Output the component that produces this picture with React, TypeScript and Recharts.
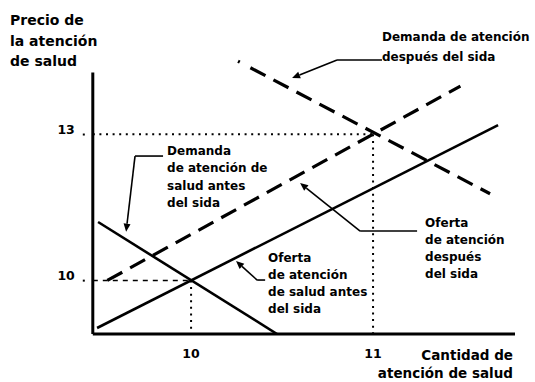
import React from "react";
import { LineChart, Line, XAxis, YAxis, ReferenceLine, ReferenceDot } from "recharts";

// Curves (quantity q, price p)
const demandBefore = [{ q: 9.489, p: 11.2 }, { q: 10.4725, p: 8.9 }];
const supplyBefore = [{ q: 9.4835, p: 9.023 }, { q: 11.687, p: 13.19 }];
const supplyAfter = [{ q: 9.54, p: 10.0 }, { q: 11.48, p: 13.99 }];
const demandAfter = [{ q: 10.258, p: 14.5 }, { q: 11.643, p: 11.78 }];

const xTicks = [10, 11];
const yTicks = [10, 13];
const X_DOMAIN: [number, number] = [9.46, 11.78];
const Y_DOMAIN: [number, number] = [8.9, 14.6];
const Y_AXIS_TOP = 14.27;

// Equilibria
const eqBefore = { q: 10, p: 10 };
const eqAfter = { q: 11, p: 13 };

// Annotation texts (anchor: left/baseline of first line in data units)
const annotations = [
  { q: 9.005, p: 15.244, lines: ["Precio de", "la atención", "de salud"], size: 14, lh: 20.5, anchor: "start" },
  { q: 11.769, p: 8.368, lines: ["Cantidad de", "atención de salud"], size: 13.5, lh: 18.5, anchor: "end" },
  { q: 11.049, p: 14.916, lines: ["Demanda de atención", "después del sida"], size: 12, lh: 20, anchor: "start" },
  { q: 9.868, p: 12.575, lines: ["Demanda", "de atención de", "salud antes", "del sida"], size: 12, lh: 17.3, anchor: "start" },
  { q: 10.423, p: 10.384, lines: ["Oferta", "de atención", "de salud antes", "del sida"], size: 12, lh: 17, anchor: "start" },
  { q: 11.286, p: 11.103, lines: ["Oferta", "de atención", "después", "del sida"], size: 12, lh: 17.2, anchor: "start" },
];

// Leader lines: [from, bend, arrow tip]
const leaders = [
  [{ q: 11.049, p: 14.526 }, { q: 10.802, p: 14.526 }, { q: 10.555, p: 14.156 }],
  [{ q: 9.846, p: 12.554 }, { q: 9.692, p: 12.554 }, { q: 9.643, p: 11.0 }],
  [{ q: 10.407, p: 10.008 }, { q: 10.363, p: 10.008 }, { q: 10.247, p: 10.398 }],
  [{ q: 11.242, p: 11.014 }, { q: 10.929, p: 11.014 }, { q: 10.599, p: 12.0 }],
];

const FONT = "'DejaVu Sans', sans-serif";

const ArrowLine = (props: any) => {
  const { x1, y1, x2, y2 } = props;
  const dx = x2 - x1;
  const dy = y2 - y1;
  const len = Math.sqrt(dx * dx + dy * dy) || 1;
  const ux = dx / len;
  const uy = dy / len;
  const L = 8;
  const W = 3.5;
  const bx = x2 - ux * L;
  const by = y2 - uy * L;
  const pts = `${x2},${y2} ${bx - uy * W},${by + ux * W} ${bx + uy * W},${by - ux * W}`;
  return (
    <g>
      <line x1={x1} y1={y1} x2={bx} y2={by} stroke="#000" strokeWidth={1.6} />
      <polygon points={pts} fill="#000" />
    </g>
  );
};

const PlainLine = (props: any) => {
  const { x1, y1, x2, y2 } = props;
  return <line x1={x1} y1={y1} x2={x2} y2={y2} stroke="#000" strokeWidth={1.6} />;
};

const makeTextShape = (a: any) => (props: any) => {
  const { cx, cy } = props;
  return (
    <text x={cx} y={cy} fontFamily={FONT} fontWeight="bold" fontSize={a.size} fill="#000" textAnchor={a.anchor}>
      {a.lines.map((l: string, i: number) => (
        <tspan key={i} x={cx} dy={i === 0 ? 0 : a.lh}>
          {l}
        </tspan>
      ))}
    </text>
  );
};

const XTick = (props: any) => {
  const { x, y, payload } = props;
  return (
    <text x={x} y={y + 10} textAnchor="middle" fontFamily={FONT} fontWeight="bold" fontSize={12.5} fill="#000">
      {payload.value}
    </text>
  );
};

const YTick = (props: any) => {
  const { x, y, payload } = props;
  return (
    <g>
      <text x={x} y={y} textAnchor="end" fontFamily={FONT} fontWeight="bold" fontSize={12.5} fill="#000">
        {payload.value}
      </text>
      <rect x={x + 8} y={y - 0.8} width={2} height={2} fill="#000" />
    </g>
  );
};

export default function App() {
  return (
    <div style={{ position: "absolute", left: 0, top: 0, background: "#fff" }}>
      <LineChart width={535} height={382} margin={{ top: 56.4, right: 20, bottom: 18, left: 32.8 }}>
        <XAxis
          type="number"
          dataKey="q"
          domain={X_DOMAIN}
          allowDataOverflow
          ticks={xTicks}
          height={30}
          tickSize={5}
          tickMargin={9}
          axisLine={{ stroke: "#000", strokeWidth: 3 }}
          tickLine={false}
          tick={<XTick />}
        />
        <YAxis
          type="number"
          dataKey="p"
          domain={Y_DOMAIN}
          allowDataOverflow
          ticks={yTicks}
          width={60}
          tickSize={0}
          tickMargin={18}
          axisLine={false}
          tickLine={false}
          tick={<YTick />}
        />
        {/* vertical axis line */}
        <ReferenceLine
          segment={[{ x: X_DOMAIN[0], y: Y_DOMAIN[0] }, { x: X_DOMAIN[0], y: Y_AXIS_TOP }]}
          stroke="#000"
          strokeWidth={3}
        />
        {/* guide lines */}
        <ReferenceLine
          segment={[{ x: X_DOMAIN[0], y: eqAfter.p }, { x: eqAfter.q, y: eqAfter.p }]}
          stroke="#000"
          strokeWidth={2}
          strokeDasharray="2 4.6"
        />
        <ReferenceLine
          segment={[{ x: eqAfter.q, y: eqAfter.p }, { x: eqAfter.q, y: Y_DOMAIN[0] }]}
          stroke="#000"
          strokeWidth={2}
          strokeDasharray="2 4.6"
        />
        <ReferenceLine
          segment={[{ x: X_DOMAIN[0], y: eqBefore.p }, { x: eqBefore.q, y: eqBefore.p }]}
          stroke="#000"
          strokeWidth={1.6}
          strokeDasharray="5 5"
        />
        <ReferenceLine
          segment={[{ x: eqBefore.q, y: eqBefore.p }, { x: eqBefore.q, y: Y_DOMAIN[0] }]}
          stroke="#000"
          strokeWidth={2}
          strokeDasharray="2 4.6"
        />
        <Line data={demandBefore} dataKey="p" stroke="#000" strokeWidth={2.6} dot={false} isAnimationActive={false} />
        <Line data={supplyBefore} dataKey="p" stroke="#000" strokeWidth={2.6} dot={false} isAnimationActive={false} />
        <Line data={supplyAfter} dataKey="p" stroke="#000" strokeWidth={3.2} strokeDasharray="17 9" dot={false} isAnimationActive={false} />
        <Line data={demandAfter} dataKey="p" stroke="#000" strokeWidth={3.2} strokeDasharray="2 12 17 9 17 9 17 9 17 9 17 9 17 9 17 9 17 9 17 9 17 9 17 9 17 9 17 9 17 9" dot={false} isAnimationActive={false} />
        {leaders.map((l, i) => (
          <ReferenceLine key={`a${i}`} segment={[{ x: l[0].q, y: l[0].p }, { x: l[1].q, y: l[1].p }]} shape={PlainLine} />
        ))}
        {leaders.map((l, i) => (
          <ReferenceLine key={`b${i}`} segment={[{ x: l[1].q, y: l[1].p }, { x: l[2].q, y: l[2].p }]} shape={ArrowLine} />
        ))}
        {annotations.map((a, i) => (
          <ReferenceDot key={`t${i}`} x={a.q} y={a.p} r={0} ifOverflow="visible" shape={makeTextShape(a)} />
        ))}
      </LineChart>
    </div>
  );
}
